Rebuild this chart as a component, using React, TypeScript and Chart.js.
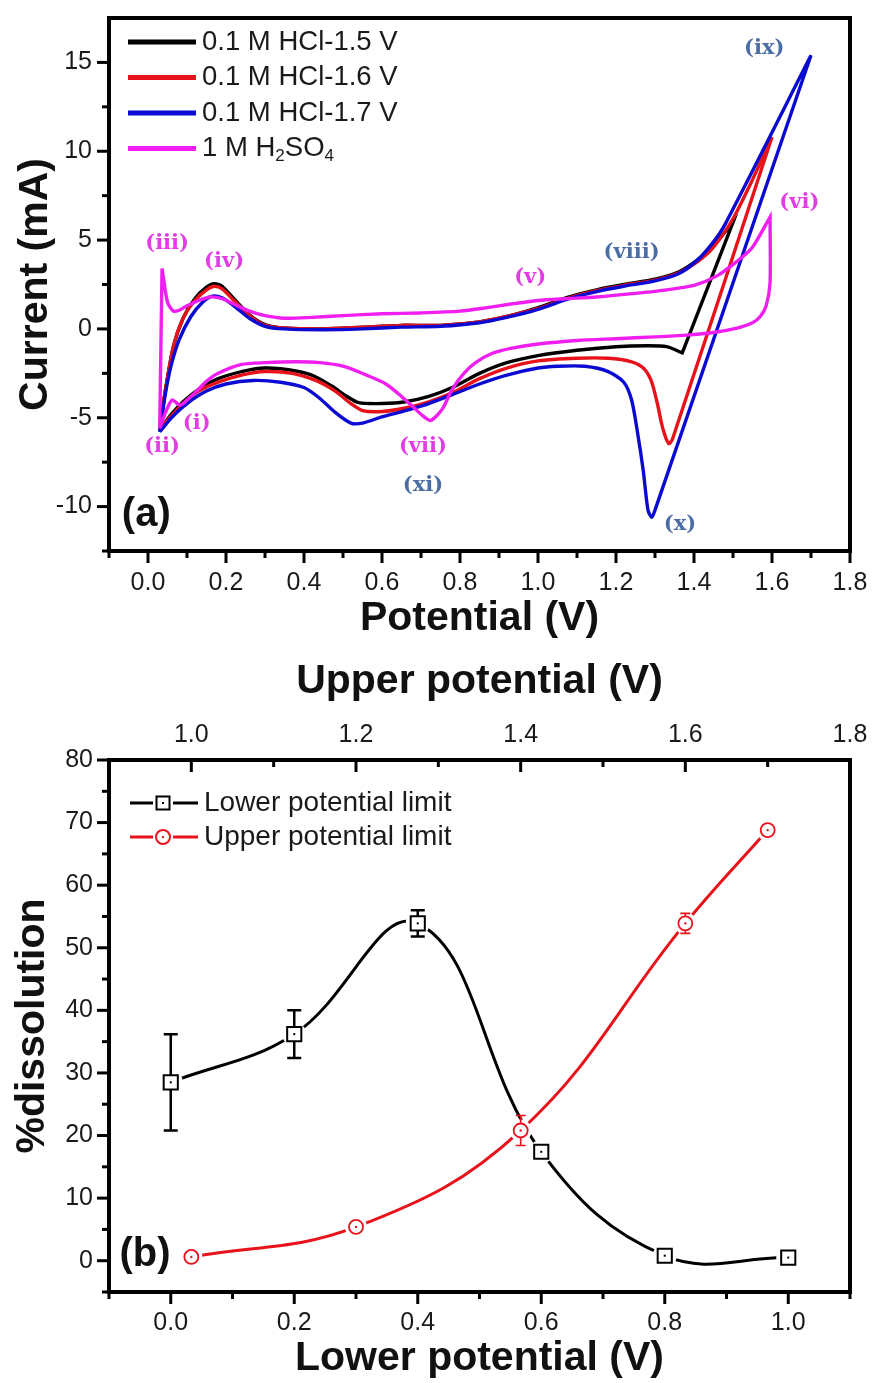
import React, { useEffect, useRef } from 'react';
import { Chart, registerables } from 'chart.js';

Chart.register(...registerables);

const SANS = '"Liberation Sans", Arial, sans-serif';
const SERIF = '"DejaVu Serif", "Liberation Serif", serif';

// ---------------- Panel (a): cyclic voltammograms ----------------
const A_SERIES = ['0.1 M HCl-1.5 V', '0.1 M HCl-1.6 V', '0.1 M HCl-1.7 V', '1 M H2SO4'];
const A_X_MAJOR = [0, 0.2, 0.4, 0.6, 0.8, 1.0, 1.2, 1.4, 1.6, 1.8];
const A_X_MINOR = [-0.1, 0.1, 0.3, 0.5, 0.7, 0.9, 1.1, 1.3, 1.5, 1.7];
const A_Y_MAJOR = [-10, -5, 0, 5, 10, 15];
const A_Y_MINOR = [-12.5, -7.5, -2.5, 2.5, 7.5, 12.5];

const HCL15_E = [0.03, 0.03, 0.045, 0.065, 0.09, 0.12, 0.15, 0.17, 0.19, 0.22,
  0.26, 0.30, 0.35, 0.45, 0.55, 0.65, 0.75, 0.85, 0.92, 1.00,
  1.08, 1.15, 1.22, 1.30, 1.36, 1.41, 1.45, 1.50, 1.50, 1.37,
  1.37, 1.33, 1.28, 1.20, 1.10, 1.00, 0.92, 0.85, 0.78, 0.72,
  0.66, 0.60, 0.54, 0.51, 0.47, 0.42, 0.36, 0.30, 0.24, 0.18,
  0.13, 0.09, 0.06, 0.03];
const HCL15_I = [-5.7, -5.7, -3.4, -1.0, 0.6, 1.7, 2.35, 2.55, 2.4, 1.7,
  0.8, 0.25, 0.05, 0.0, 0.1, 0.2, 0.2, 0.4, 0.7, 1.2,
  1.8, 2.2, 2.5, 2.8, 3.2, 3.9, 4.7, 6.0, 6.0, -1.35,
  -1.35, -1.0, -0.95, -1.0, -1.2, -1.5, -1.9, -2.5, -3.3, -3.8,
  -4.1, -4.2, -4.15, -3.8, -3.2, -2.6, -2.3, -2.2, -2.4, -2.8,
  -3.4, -4.1, -4.8, -5.7];

const HCL16_E = [0.03, 0.03, 0.045, 0.065, 0.09, 0.12, 0.15, 0.17, 0.19, 0.22,
  0.26, 0.30, 0.35, 0.45, 0.55, 0.65, 0.75, 0.85, 0.92, 1.00,
  1.08, 1.15, 1.22, 1.30, 1.36, 1.41, 1.45, 1.50, 1.55, 1.60,
  1.60, 1.345, 1.335, 1.32, 1.305, 1.29, 1.27, 1.24, 1.18, 1.10,
  1.00, 0.92, 0.85, 0.78, 0.72, 0.66, 0.60, 0.55, 0.52, 0.48,
  0.43, 0.37, 0.30, 0.24, 0.18, 0.13, 0.09, 0.06, 0.03];
const HCL16_I = [-5.6, -5.6, -3.4, -1.0, 0.6, 1.6, 2.2, 2.4, 2.25, 1.6,
  0.75, 0.2, 0.05, 0.0, 0.1, 0.2, 0.2, 0.4, 0.7, 1.15,
  1.75, 2.15, 2.45, 2.75, 3.15, 3.8, 4.6, 6.2, 8.4, 10.8,
  10.8, -6.2, -6.45, -5.6, -4.1, -2.9, -2.2, -1.85, -1.65, -1.65,
  -1.8, -2.2, -2.8, -3.6, -4.1, -4.45, -4.65, -4.6, -4.2, -3.5,
  -2.9, -2.5, -2.4, -2.6, -3.0, -3.5, -4.2, -4.9, -5.6];

const HCL17_E = [0.03, 0.03, 0.045, 0.06, 0.08, 0.11, 0.14, 0.165, 0.19, 0.22,
  0.26, 0.30, 0.35, 0.45, 0.55, 0.65, 0.75, 0.85, 0.92, 1.00,
  1.08, 1.15, 1.22, 1.30, 1.36, 1.41, 1.45, 1.48, 1.70, 1.70,
  1.30, 1.292, 1.282, 1.27, 1.255, 1.24, 1.22, 1.18, 1.12, 1.05,
  1.00, 0.92, 0.85, 0.78, 0.72, 0.66, 0.60, 0.55, 0.52, 0.48,
  0.44, 0.40, 0.34, 0.27, 0.20, 0.15, 0.10, 0.06, 0.03];
const HCL17_I = [-5.8, -5.8, -3.6, -2.0, -0.6, 0.7, 1.5, 1.85, 1.75, 1.3,
  0.6, 0.15, 0.0, -0.05, 0.0, 0.1, 0.15, 0.35, 0.65, 1.1,
  1.7, 2.1, 2.4, 2.7, 3.1, 3.9, 4.9, 5.9, 15.4, 15.4,
  -10.2, -10.6, -10.2, -8.0, -5.8, -4.0, -3.0, -2.4, -2.1, -2.1,
  -2.2, -2.6, -3.1, -3.7, -4.2, -4.6, -4.95, -5.3, -5.3, -4.7,
  -3.9, -3.3, -3.0, -2.9, -3.1, -3.5, -4.2, -5.0, -5.8];

const H2SO4_E = [0.03, 0.03, 0.036, 0.036, 0.05, 0.065, 0.08, 0.10, 0.13, 0.16,
  0.19, 0.22, 0.26, 0.30, 0.35, 0.42, 0.50, 0.60, 0.70, 0.80,
  0.87, 0.93, 1.00, 1.07, 1.15, 1.25, 1.33, 1.40, 1.46, 1.51,
  1.55, 1.595, 1.595, 1.595, 1.585, 1.57, 1.55, 1.51, 1.45, 1.38,
  1.30, 1.20, 1.10, 1.00, 0.93, 0.88, 0.84, 0.81, 0.78, 0.755,
  0.725, 0.705, 0.68, 0.65, 0.61, 0.56, 0.50, 0.44, 0.38, 0.30,
  0.24, 0.18, 0.15, 0.12, 0.10, 0.082, 0.062, 0.045, 0.03];
const H2SO4_I = [-5.6, -5.6, 3.4, 3.4, 1.5, 1.0, 1.05, 1.3, 1.6, 1.8,
  1.7, 1.4, 1.0, 0.75, 0.6, 0.65, 0.75, 0.85, 0.9, 1.0,
  1.2, 1.4, 1.6, 1.7, 1.8, 2.0, 2.2, 2.45, 3.0, 3.8,
  4.6, 6.3, 6.3, 2.6, 1.3, 0.7, 0.35, 0.05, -0.2, -0.35,
  -0.45, -0.55, -0.65, -0.85, -1.1, -1.4, -1.9, -2.5, -3.4, -4.5,
  -5.15, -4.9, -4.4, -3.8, -3.1, -2.6, -2.1, -1.9, -1.85, -1.9,
  -2.0, -2.5, -2.95, -3.6, -4.0, -4.3, -4.0, -4.7, -5.6];

const A_LABELS = ['(iii)', '(iv)', '(ii)', '(i)', '(v)', '(vi)', '(vii)', '(viii)', '(ix)', '(x)', '(xi)'];
const A_LABEL_E = [0.049, 0.195, 0.036, 0.125, 0.98, 1.67, 0.705, 1.24, 1.58, 1.364, 0.705];
const A_LABEL_I = [4.8, 3.8, -6.6, -5.3, 2.9, 7.1, -6.6, 4.3, 15.8, -11.0, -8.8];
const A_LABEL_GROUP = [0, 0, 0, 0, 0, 0, 0, 1, 1, 1, 1];

// ---------------- Panel (b): dissolution ----------------
const B_SERIES = ['Lower potential limit', 'Upper potential limit'];
const B_X_MAJOR = [0, 0.2, 0.4, 0.6, 0.8, 1.0];
const B_X_MINOR = [-0.1, 0.1, 0.3, 0.5, 0.7, 0.9, 1.1];
const B_X2_MAJOR = [1.0, 1.2, 1.4, 1.6, 1.8];
const B_X2_MINOR = [0.9, 1.1, 1.3, 1.5, 1.7];
const B_Y_MAJOR = [0, 10, 20, 30, 40, 50, 60, 70, 80];
const B_Y_MINOR = [-5, 5, 15, 25, 35, 45, 55, 65, 75];

const LOWER_V = [0.0, 0.2, 0.4, 0.6, 0.8, 1.0];
const LOWER_DISS = [28.5, 36.2, 53.9, 17.4, 0.8, 0.5];
const LOWER_ERR = [7.7, 3.8, 2.1, 0.8, 0.6, 0.5];
const UPPER_V = [1.0, 1.2, 1.4, 1.6, 1.7];
const UPPER_DISS = [0.6, 5.4, 20.8, 53.9, 68.8];
const UPPER_ERR = [0.4, 0.5, 2.4, 1.6, 0.8];

// ---------------- styles ----------------
const A_COLORS = ['#000000', '#e8121b', '#0a0ad2', '#f01ef0'];
const LABEL_COLORS = ['#e43ce4', '#4a6da6'];
const B_COLORS = ['#000000', '#e8121b'];

const pts = (xs: number[], ys: number[]) => xs.map((x, i) => ({ x, y: ys[i] }));

type TickSpec = { id: string; edge: 'left' | 'bottom' | 'top'; dir: 'out' | 'in'; major: number[]; minor: number[] };

function framePlugin(specs: TickSpec[]) {
  return {
    id: 'frameTicks',
    afterDraw(chart: any) {
      const { ctx, chartArea: ca } = chart;
      ctx.save();
      ctx.strokeStyle = '#000';
      ctx.lineWidth = 3;
      for (const sp of specs) {
        const s = chart.scales[sp.id];
        const one = (v: number, len: number) => {
          const p = s.getPixelForValue(v);
          ctx.beginPath();
          if (sp.edge === 'left') {
            const d = sp.dir === 'out' ? -len : len;
            ctx.moveTo(ca.left, p); ctx.lineTo(ca.left + d, p);
          } else if (sp.edge === 'bottom') {
            const d = sp.dir === 'out' ? len : -len;
            ctx.moveTo(p, ca.bottom); ctx.lineTo(p, ca.bottom + d);
          } else {
            const d = sp.dir === 'out' ? -len : len;
            ctx.moveTo(p, ca.top); ctx.lineTo(p, ca.top + d);
          }
          ctx.stroke();
        };
        sp.major.forEach((v) => one(v, 12));
        sp.minor.forEach((v) => one(v, 7));
      }
      ctx.lineWidth = 4;
      ctx.strokeRect(ca.left, ca.top, ca.right - ca.left, ca.bottom - ca.top);
      ctx.restore();
    },
  };
}

function axis(o: {
  position: string; min: number; max: number; ticks: number[]; fmt: (v: number) => string;
  pad: number; size: number; title: string; titlePad: number;
}) {
  const horizontal = o.position === 'top' || o.position === 'bottom';
  return {
    type: 'linear',
    position: o.position,
    min: o.min,
    max: o.max,
    afterBuildTicks: (s: any) => { s.ticks = o.ticks.map((v) => ({ value: v })); },
    afterFit: (s: any) => {
      if (horizontal) s.height = o.size; else s.width = o.size;
      s.paddingLeft = 0; s.paddingRight = 0; s.paddingTop = 0; s.paddingBottom = 0;
    },
    grid: { display: false, drawTicks: false },
    border: { display: false },
    ticks: {
      autoSkip: false, maxRotation: 0, minRotation: 0, padding: o.pad,
      color: '#1a1a1a', font: { family: SANS, size: 25 },
      callback: (v: any) => o.fmt(Number(v)),
    },
    title: {
      display: true, text: o.title, color: '#111', padding: o.titlePad,
      font: { family: SANS, size: 41, weight: 'bold', lineHeight: 1 },
    },
  };
}

function drawRuns(ctx: CanvasRenderingContext2D, text: string, x: number, y: number, size: number) {
  // digits directly after a capital letter are drawn as subscripts (chemical formula)
  let cx = x;
  for (let i = 0; i < text.length; i++) {
    const ch = text[i];
    const sub = /[0-9]/.test(ch) && i > 0 && /[A-Z]/.test(text[i - 1]) && text.startsWith('1 M');
    if (sub) {
      ctx.font = `${Math.round(size * 0.62)}px ${SANS}`;
      ctx.fillText(ch, cx, y + size * 0.28);
    } else {
      ctx.font = `${size}px ${SANS}`;
      ctx.fillText(ch, cx, y);
    }
    cx += ctx.measureText(ch).width;
  }
}

function configA() {
  const cv = (xs: number[], ys: number[], color: string, label: string) => ({
    label, data: pts(xs, ys), borderColor: color, backgroundColor: color,
    borderWidth: 3.4, showLine: true, pointRadius: 0, tension: 0.25, fill: false,
  });
  const annot = {
    id: 'annotA',
    afterDraw(chart: any) {
      const { ctx, chartArea: ca } = chart;
      const sx = chart.scales.x, sy = chart.scales.y;
      ctx.save();
      ctx.textAlign = 'center';
      ctx.textBaseline = 'middle';
      ctx.font = `bold 21px ${SERIF}`;
      A_LABELS.forEach((t, i) => {
        ctx.fillStyle = LABEL_COLORS[A_LABEL_GROUP[i]];
        ctx.fillText(t, sx.getPixelForValue(A_LABEL_E[i]), sy.getPixelForValue(A_LABEL_I[i]));
      });
      ctx.textAlign = 'left';
      ctx.fillStyle = '#111';
      ctx.font = `bold 40px ${SANS}`;
      ctx.fillText('(a)', sx.getPixelForValue(-0.067), sy.getPixelForValue(-10.47));
      // legend
      const lx = ca.left + 19, ly = ca.top + 24, dy = 35.5;
      A_SERIES.forEach((name, i) => {
        const y = ly + i * dy;
        ctx.strokeStyle = A_COLORS[i];
        ctx.lineWidth = 5;
        ctx.beginPath(); ctx.moveTo(lx, y); ctx.lineTo(lx + 68, y); ctx.stroke();
        ctx.fillStyle = '#1a1a1a';
        ctx.textBaseline = 'middle';
        drawRuns(ctx, name, lx + 74, y, 27.5);
      });
      ctx.restore();
    },
  };
  return {
    type: 'scatter',
    data: {
      datasets: [
        cv(H2SO4_E, H2SO4_I, A_COLORS[3], A_SERIES[3]),
        cv(HCL17_E, HCL17_I, A_COLORS[2], A_SERIES[2]),
        cv(HCL16_E, HCL16_I, A_COLORS[1], A_SERIES[1]),
        cv(HCL15_E, HCL15_I, A_COLORS[0], A_SERIES[0]),
      ],
    },
    options: {
      responsive: false, animation: false, devicePixelRatio: 1, events: [],
      layout: { padding: { left: 0, right: 23, top: 18, bottom: 0 } },
      plugins: { legend: { display: false }, tooltip: { enabled: false } },
      scales: {
        x: axis({ position: 'bottom', min: -0.1, max: 1.8, ticks: A_X_MAJOR, fmt: (v) => v.toFixed(1), pad: 17, size: 109, title: 'Potential (V)', titlePad: 21 }),
        y: axis({ position: 'left', min: -12.5, max: 17.5, ticks: A_Y_MAJOR, fmt: (v) => String(v), pad: 17, size: 109, title: 'Current (mA)', titlePad: 15 }),
      },
    },
    plugins: [
      framePlugin([
        { id: 'x', edge: 'bottom', dir: 'out', major: A_X_MAJOR, minor: A_X_MINOR },
        { id: 'y', edge: 'left', dir: 'out', major: A_Y_MAJOR, minor: A_Y_MINOR },
      ]),
      annot,
    ],
  };
}

function configB() {
  const annot = {
    id: 'annotB',
    beforeDatasetDraw(chart: any, args: any) {
      if (args.index !== 1) return;
      const { ctx } = chart;
      const sy = chart.scales.y;
      const groups = [
        { sx: chart.scales.x, xs: LOWER_V, ys: LOWER_DISS, es: LOWER_ERR, color: B_COLORS[0], w: 2.5, cap: 7, halo: 12 },
        { sx: chart.scales.x2, xs: UPPER_V, ys: UPPER_DISS, es: UPPER_ERR, color: B_COLORS[1], w: 1.6, cap: 5, halo: 11 },
      ];
      ctx.save();
      groups.forEach((g) => {
        g.xs.forEach((xv, i) => {
          const px = g.sx.getPixelForValue(xv), py = sy.getPixelForValue(g.ys[i]);
          ctx.fillStyle = '#fff';
          ctx.beginPath(); ctx.arc(px, py, g.halo, 0, Math.PI * 2); ctx.fill();
        });
      });
      groups.forEach((g) => {
        ctx.strokeStyle = g.color;
        ctx.lineWidth = g.w;
        g.xs.forEach((xv, i) => {
          const px = g.sx.getPixelForValue(xv);
          const t = sy.getPixelForValue(g.ys[i] + g.es[i]);
          const b = sy.getPixelForValue(g.ys[i] - g.es[i]);
          ctx.beginPath();
          ctx.moveTo(px, t); ctx.lineTo(px, b);
          ctx.moveTo(px - g.cap, t); ctx.lineTo(px + g.cap, t);
          ctx.moveTo(px - g.cap, b); ctx.lineTo(px + g.cap, b);
          ctx.stroke();
        });
      });
      ctx.restore();
    },
    afterDatasetsDraw(chart: any) {
      const { ctx } = chart;
      const sy = chart.scales.y;
      ctx.save();
      LOWER_V.forEach((xv, i) => {
        ctx.fillStyle = B_COLORS[0];
        ctx.fillRect(chart.scales.x.getPixelForValue(xv) - 1, sy.getPixelForValue(LOWER_DISS[i]) - 1, 2, 2);
      });
      UPPER_V.forEach((xv, i) => {
        ctx.fillStyle = B_COLORS[1];
        ctx.beginPath();
        ctx.arc(chart.scales.x2.getPixelForValue(xv), sy.getPixelForValue(UPPER_DISS[i]), 1.2, 0, Math.PI * 2);
        ctx.fill();
      });
      ctx.restore();
    },
    afterDraw(chart: any) {
      const { ctx, chartArea: ca } = chart;
      ctx.save();
      const lx = ca.left + 21, ly = ca.top + 43, dy = 34;
      B_SERIES.forEach((name, i) => {
        const y = ly + i * dy;
        const c = B_COLORS[i];
        const mx = lx + 33;
        ctx.strokeStyle = c;
        ctx.lineWidth = 3;
        ctx.beginPath();
        ctx.moveTo(lx, y); ctx.lineTo(mx - 10, y);
        ctx.moveTo(mx + 10, y); ctx.lineTo(lx + 68, y);
        ctx.stroke();
        ctx.lineWidth = 2;
        ctx.fillStyle = '#fff';
        ctx.beginPath();
        if (i === 0) ctx.rect(mx - 6.5, y - 6.5, 13, 13); else ctx.arc(mx, y, 7, 0, Math.PI * 2);
        ctx.fill(); ctx.stroke();
        ctx.fillStyle = c;
        ctx.fillRect(mx - 1, y - 1, 2, 2);
        ctx.fillStyle = '#1a1a1a';
        ctx.textAlign = 'left';
        ctx.textBaseline = 'middle';
        ctx.font = `28px ${SANS}`;
        ctx.fillText(name, lx + 74, y);
      });
      ctx.fillStyle = '#111';
      ctx.font = `bold 40px ${SANS}`;
      ctx.fillText('(b)', chart.scales.x.getPixelForValue(-0.083), chart.scales.y.getPixelForValue(0.9));
      ctx.restore();
    },
  };
  return {
    type: 'scatter',
    data: {
      datasets: [
        {
          label: B_SERIES[0], xAxisID: 'x', data: pts(LOWER_V, LOWER_DISS), showLine: false,
          pointStyle: 'rect', pointRadius: 10, pointBorderWidth: 2,
          pointBorderColor: B_COLORS[0], pointBackgroundColor: '#fff',
        },
        {
          label: B_SERIES[1], xAxisID: 'x2', data: pts(UPPER_V, UPPER_DISS), showLine: false,
          pointStyle: 'circle', pointRadius: 7, pointBorderWidth: 1.8,
          pointBorderColor: B_COLORS[1], pointBackgroundColor: '#fff',
        },
        {
          label: B_SERIES[0] + ' line', xAxisID: 'x', data: pts(LOWER_V, LOWER_DISS), showLine: true,
          pointRadius: 0, borderColor: B_COLORS[0], borderWidth: 3, tension: 0.4,
        },
        {
          label: B_SERIES[1] + ' line', xAxisID: 'x2', data: pts(UPPER_V, UPPER_DISS), showLine: true,
          pointRadius: 0, borderColor: B_COLORS[1], borderWidth: 3, tension: 0.4,
        },
      ],
    },
    options: {
      responsive: false, animation: false, devicePixelRatio: 1, events: [],
      layout: { padding: { left: 0, right: 23, top: 0, bottom: 0 } },
      plugins: { legend: { display: false }, tooltip: { enabled: false } },
      scales: {
        x: axis({ position: 'bottom', min: -0.1, max: 1.1, ticks: B_X_MAJOR, fmt: (v) => v.toFixed(1), pad: 16, size: 91, title: 'Lower potential (V)', titlePad: 4 }),
        x2: axis({ position: 'top', min: 0.9, max: 1.8, ticks: B_X2_MAJOR, fmt: (v) => v.toFixed(1), pad: 10, size: 100, title: 'Upper potential (V)', titlePad: 1 }),
        y: axis({ position: 'left', min: -5, max: 80, ticks: B_Y_MAJOR, fmt: (v) => String(v), pad: 16, size: 109, title: '%dissolution', titlePad: 12 }),
      },
    },
    plugins: [
      framePlugin([
        { id: 'x', edge: 'bottom', dir: 'out', major: B_X_MAJOR, minor: B_X_MINOR },
        { id: 'x2', edge: 'top', dir: 'in', major: B_X2_MAJOR, minor: B_X2_MINOR },
        { id: 'y', edge: 'left', dir: 'out', major: B_Y_MAJOR, minor: B_Y_MINOR },
      ]),
      annot,
    ],
  };
}

export default function App() {
  const refA = useRef<HTMLCanvasElement>(null);
  const refB = useRef<HTMLCanvasElement>(null);
  useEffect(() => {
    const a = new Chart(refA.current as HTMLCanvasElement, configA() as any);
    const b = new Chart(refB.current as HTMLCanvasElement, configB() as any);
    return () => { a.destroy(); b.destroy(); };
  }, []);
  return (
    <div style={{ position: 'absolute', left: 0, top: 0, width: 873, height: 1383, background: '#fff', overflow: 'hidden' }}>
      <canvas ref={refA} width={873} height={660} style={{ position: 'absolute', left: 0, top: 0, width: 873, height: 660 }} />
      <canvas ref={refB} width={873} height={723} style={{ position: 'absolute', left: 0, top: 660, width: 873, height: 723 }} />
    </div>
  );
}
